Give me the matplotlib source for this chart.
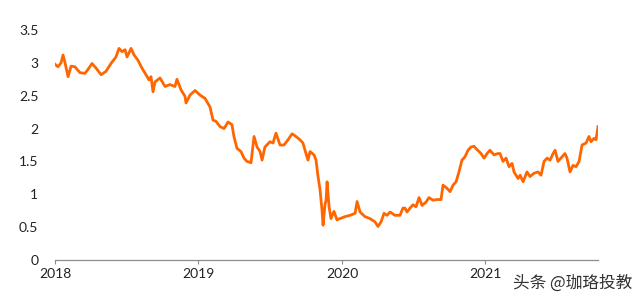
import matplotlib
matplotlib.use("Agg")
import matplotlib.pyplot as plt
from matplotlib.ticker import FuncFormatter

plt.rcParams['font.family'] = ['Lato', 'Noto Sans CJK SC', 'DejaVu Sans']

# decimal-year positions and values
t = [2018.000, 2018.021, 2018.042, 2018.056, 2018.070, 2018.091, 2018.112, 2018.139,
     2018.174, 2018.209, 2018.230, 2018.258, 2018.286, 2018.321, 2018.355, 2018.390,
     2018.425, 2018.446, 2018.467, 2018.488, 2018.502, 2018.530, 2018.551, 2018.578,
     2018.606, 2018.634, 2018.655, 2018.669, 2018.683, 2018.697, 2018.732, 2018.767,
     2018.801, 2018.836, 2018.850, 2018.878, 2018.906, 2018.913, 2018.941, 2018.976,
     2019.010, 2019.045, 2019.080, 2019.101, 2019.122, 2019.150, 2019.178, 2019.206,
     2019.233, 2019.247, 2019.268, 2019.296, 2019.317, 2019.338, 2019.366, 2019.387,
     2019.408, 2019.429, 2019.443, 2019.463, 2019.498, 2019.519, 2019.540, 2019.568,
     2019.596, 2019.624, 2019.652, 2019.679, 2019.707, 2019.728, 2019.749, 2019.763,
     2019.777, 2019.805, 2019.819, 2019.833, 2019.847, 2019.861, 2019.868, 2019.882,
     2019.889, 2019.896, 2019.910, 2019.923, 2019.944, 2019.965, 2019.986,
     2020.021, 2020.056, 2020.091, 2020.105, 2020.126, 2020.160, 2020.195, 2020.230,
     2020.251, 2020.272, 2020.293, 2020.314, 2020.335, 2020.369, 2020.404, 2020.425,
     2020.439, 2020.453, 2020.474, 2020.495, 2020.516, 2020.537, 2020.558, 2020.585,
     2020.606, 2020.634, 2020.662, 2020.690, 2020.704, 2020.732, 2020.753, 2020.774,
     2020.795, 2020.815, 2020.836, 2020.857, 2020.878, 2020.899, 2020.920, 2020.941,
     2020.969, 2020.990, 2021.011, 2021.031, 2021.059, 2021.087, 2021.101, 2021.122,
     2021.143, 2021.164, 2021.185, 2021.199, 2021.227, 2021.241, 2021.262, 2021.289,
     2021.310, 2021.338, 2021.366, 2021.387, 2021.408, 2021.429, 2021.450, 2021.471,
     2021.485, 2021.505, 2021.533, 2021.554, 2021.568, 2021.589, 2021.610, 2021.631,
     2021.652, 2021.673, 2021.701, 2021.721, 2021.735, 2021.756, 2021.770, 2021.784]

values = [2.98, 2.94, 3.00, 3.12, 3.00, 2.79, 2.95, 2.94,
          2.85, 2.84, 2.90, 2.99, 2.92, 2.82, 2.87, 2.99,
          3.09, 3.22, 3.17, 3.20, 3.09, 3.22, 3.12, 3.04,
          2.92, 2.82, 2.74, 2.79, 2.56, 2.71, 2.77, 2.64,
          2.67, 2.64, 2.75, 2.59, 2.49, 2.39, 2.51, 2.58,
          2.51, 2.46, 2.33, 2.13, 2.11, 2.03, 2.00, 2.10,
          2.06, 1.88, 1.70, 1.65, 1.55, 1.50, 1.48, 1.88,
          1.72, 1.65, 1.52, 1.72, 1.80, 1.78, 1.93, 1.75,
          1.75, 1.83, 1.92, 1.88, 1.83, 1.78, 1.62, 1.52,
          1.65, 1.60, 1.52, 1.27, 1.07, 0.75, 0.53, 0.85,
          0.91, 1.19, 0.81, 0.63, 0.74, 0.61, 0.63,
          0.66, 0.68, 0.71, 0.89, 0.73, 0.66, 0.63, 0.58,
          0.51, 0.58, 0.71, 0.68, 0.73, 0.68, 0.68, 0.79,
          0.79, 0.73, 0.79, 0.84, 0.81, 0.95, 0.83, 0.88,
          0.95, 0.91, 0.92, 0.92, 1.14, 1.09, 1.04, 1.14,
          1.19, 1.34, 1.52, 1.57, 1.67, 1.72, 1.73, 1.68,
          1.62, 1.55, 1.62, 1.67, 1.60, 1.62, 1.62, 1.50,
          1.55, 1.42, 1.47, 1.34, 1.24, 1.29, 1.19, 1.34,
          1.27, 1.32, 1.34, 1.29, 1.50, 1.55, 1.52, 1.62,
          1.67, 1.50, 1.57, 1.62, 1.55, 1.34, 1.44, 1.42,
          1.50, 1.75, 1.78, 1.88, 1.80, 1.85, 1.83, 2.03]

year_ticks = [2018, 2019, 2020, 2021]
year_labels = ['2018', '2019', '2020', '2021']
y_ticks = [0, 0.5, 1, 1.5, 2, 2.5, 3, 3.5]

fig = plt.figure(figsize=(6.4, 3.0), dpi=100)
ax = fig.add_axes([55/640, 40/300, (598-55)/640, 230/300])
ax.plot(t, values, color='#FF6600', linewidth=2.0, solid_joinstyle='round')

ax.set_xlim(2018.0, 2021.784)
ax.set_ylim(0, 3.5)
ax.set_xticks(year_ticks)
ax.set_xticklabels(year_labels)
ax.set_yticks(y_ticks)
ax.yaxis.set_major_formatter(FuncFormatter(lambda v, p: ('%g' % v)))

for s in ['top', 'right', 'left']:
    ax.spines[s].set_visible(False)
ax.spines['bottom'].set_color('#8c8c8c')
ax.spines['bottom'].set_linewidth(0.9)
ax.tick_params(axis='x', length=3, color='#8c8c8c', width=0.8, labelsize=10,
               labelcolor='#222222', pad=3)
ax.tick_params(axis='y', length=0, labelsize=10, labelcolor='#222222', pad=12)

fig.text(513/640, 1 - 283/300, '头条 @珈珞投教', fontsize=12, color='#333333',
         va='center', ha='left', family=['Noto Sans CJK SC', 'DejaVu Sans'])

fig.savefig('out.png', dpi=100, facecolor='white')
